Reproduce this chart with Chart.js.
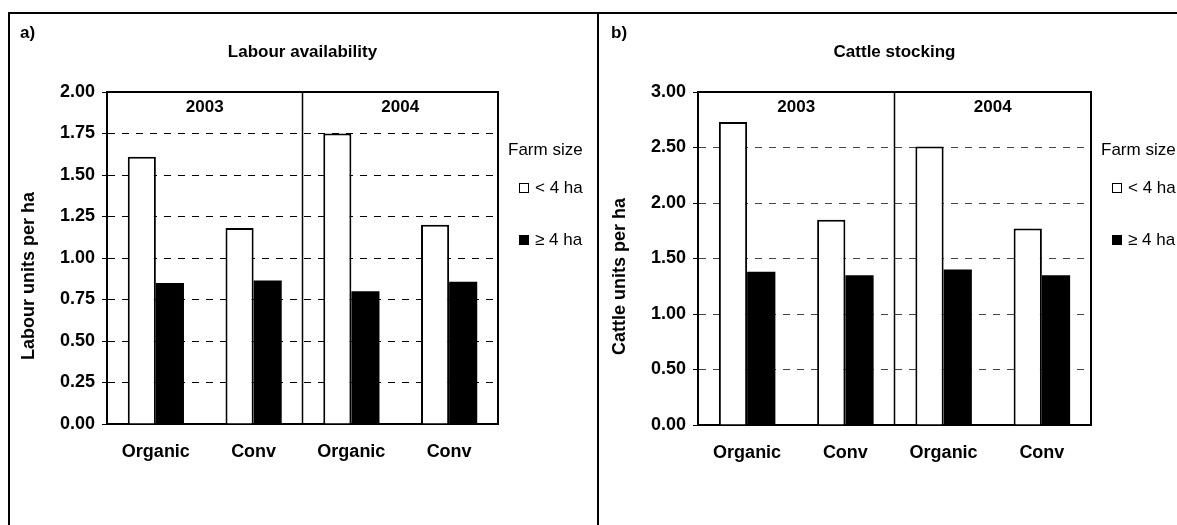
<!DOCTYPE html>
<html>
<head>
<meta charset="utf-8">
<script src="https://cdn.jsdelivr.net/npm/chart.js@4.4.1/dist/chart.umd.min.js"></script>
<style>
  html, body { margin: 0; padding: 0; background: #fff; overflow: hidden; }
  #wrap { position: relative; width: 1177px; height: 525px; }
  canvas { position: absolute; top: 0; }
  #chartA { left: 0; }
  #chartB { left: 598px; }
  .rule { position: absolute; background: #000; z-index: 2; }
</style>
</head>
<body>
<div id="wrap">
  <canvas id="chartA" width="598" height="525"></canvas>
  <canvas id="chartB" width="579" height="525"></canvas>
  <div class="rule" style="left:8px;top:12px;width:1169px;height:2px"></div>
  <div class="rule" style="left:8px;top:12px;width:2px;height:513px"></div>
  <div class="rule" style="left:597px;top:12px;width:2px;height:513px"></div>
</div>
<script>
  "use strict";

  // Data
  const categories = ["Organic", "Conv", "Organic", "Conv"];
  const years = ["2003", "2004"];
  const sizeLabels = ["< 4 ha", "\u2265 4 ha"];
  const legendTitle = "Farm size";

  const labourSmall = [1.61, 1.18, 1.75, 1.2];
  const labourLarge = [0.85, 0.865, 0.8, 0.857];
  const cattleSmall = [2.73, 1.85, 2.51, 1.77];
  const cattleLarge = [1.38, 1.35, 1.4, 1.35];

  const labourAxis = { min: 0, max: 2, step: 0.25 };
  const cattleAxis = { min: 0, max: 3, step: 0.5 };

  const FONT = "'Liberation Sans', Arial, Helvetica, sans-serif";
  Chart.defaults.font.family = FONT;
  Chart.defaults.color = "#000";

  /**
   * Draws the frame, year split, panel tag, y title and legend
   */
  const panelDecor = {
    id: "panelDecor",
    afterDraw: function (chart, args, opts) {
      const ctx = chart.ctx;
      const a = chart.chartArea;
      const x = chart.scales.x;
      ctx.save();

      // top + right frame of the plot
      ctx.strokeStyle = "#000";
      ctx.lineWidth = 2;
      ctx.beginPath();
      ctx.moveTo(a.left, a.top);
      ctx.lineTo(a.right, a.top);
      ctx.lineTo(a.right, a.bottom);
      ctx.stroke();

      // divider between the two years
      const mid = (x.getPixelForValue(1) + x.getPixelForValue(2)) / 2;
      ctx.lineWidth = 1.5;
      ctx.beginPath();
      ctx.moveTo(mid, a.top);
      ctx.lineTo(mid, a.bottom);
      ctx.stroke();

      ctx.fillStyle = "#000";
      ctx.font = "bold 17px " + FONT;
      ctx.textBaseline = "middle";
      ctx.textAlign = "center";
      ctx.fillText(years[0], (a.left + mid) / 2, a.top + 15);
      ctx.fillText(years[1], (mid + a.right) / 2, a.top + 15);

      // panel tag
      ctx.textAlign = "left";
      ctx.fillText(opts.tag, opts.tagX, 33);

      // y axis title
      ctx.save();
      ctx.font = "bold 18px " + FONT;
      ctx.translate(opts.yTitleX, (a.top + a.bottom) / 2 + 18);
      ctx.rotate(-Math.PI / 2);
      ctx.textAlign = "center";
      ctx.fillText(opts.yTitle, 0, 0);
      ctx.restore();

      // legend
      ctx.font = "17px " + FONT;
      ctx.textAlign = "left";
      ctx.fillText(legendTitle, a.right + 10, a.top + 58);
      ctx.lineWidth = 1;
      ctx.strokeRect(a.right + 21.5, a.top + 91.5, 9, 9);
      ctx.fillRect(a.right + 21, a.top + 143, 10, 10);
      ctx.fillText(sizeLabels[0], a.right + 37, a.top + 96);
      ctx.fillText(sizeLabels[1], a.right + 37, a.top + 148);

      ctx.restore();
    },
  };

  function makeChart(canvasId, small, large, axis, o) {
    const ctx = document.getElementById(canvasId).getContext("2d");
    return new Chart(ctx, {
      type: "bar",
      data: {
        labels: categories,
        datasets: [
          {
            label: sizeLabels[0],
            data: small,
            backgroundColor: "#fff",
            borderColor: "#000",
            borderWidth: 2,
          },
          {
            label: sizeLabels[1],
            data: large,
            backgroundColor: "#000",
            borderColor: "#000",
            borderWidth: 0,
          },
        ],
      },
      options: {
        responsive: false,
        animation: false,
        events: [],
        layout: {
          padding: { left: 0, right: o.padRight, top: 0, bottom: o.padBottom },
        },
        datasets: {
          bar: { categoryPercentage: 0.575, barPercentage: 1 },
        },
        plugins: {
          legend: { display: false },
          tooltip: { enabled: false },
          title: {
            display: true,
            text: o.title,
            fullSize: false,
            color: "#000",
            font: { size: 17, weight: "bold" },
            padding: { top: 42, bottom: 29.6 },
          },
          panelDecor: {
            tag: o.tag,
            tagX: o.tagX,
            yTitle: o.yTitle,
            yTitleX: o.yTitleX,
          },
        },
        scales: {
          x: {
            grid: { display: false, drawTicks: false },
            border: { display: true, color: "#000", width: 2 },
            ticks: {
              padding: 17,
              color: "#000",
              font: { size: 18, weight: "bold" },
            },
            afterFit: function (scale) {
              scale.height = 40;
            },
          },
          y: {
            min: axis.min,
            max: axis.max,
            ticks: {
              stepSize: axis.step,
              padding: 7,
              color: "#000",
              font: { size: 18, weight: "bold" },
              callback: function (v) {
                return Number(v).toFixed(2);
              },
            },
            grid: {
              color: function (c) {
                if (c.tick && (c.tick.value === axis.min || c.tick.value === axis.max)) {
                  return "rgba(0,0,0,0)";
                }
                return o.gridColor;
              },
              borderDash: [7, 7],
              tickColor: "#000",
              tickLength: 5,
              tickBorderDash: [],
              lineWidth: 1,
            },
            border: { display: true, color: "#000", width: 2, dash: [7, 7] },
            afterFit: function (scale) {
              scale.width = o.yWidth;
            },
          },
        },
      },
      plugins: [panelDecor],
    });
  }

  makeChart("chartA", labourSmall, labourLarge, labourAxis, {
    title: "Labour availability",
    tag: "a)",
    tagX: 20,
    yTitle: "Labour units per ha",
    yTitleX: 29,
    yWidth: 107,
    padRight: 100,
    padBottom: 61,
    gridColor: "#000",
  });

  makeChart("chartB", cattleSmall, cattleLarge, cattleAxis, {
    title: "Cattle stocking",
    tag: "b)",
    tagX: 13,
    yTitle: "Cattle units per ha",
    yTitleX: 22,
    yWidth: 100,
    padRight: 86,
    padBottom: 60,
    gridColor: "#444",
  });
</script>
</body>
</html>
